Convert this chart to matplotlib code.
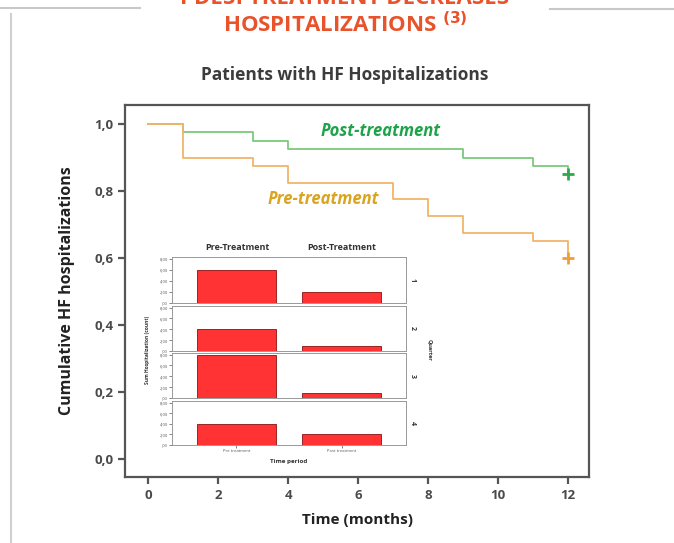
import numpy as np
import matplotlib
matplotlib.use("Agg")
import matplotlib.pyplot as plt
from matplotlib.lines import Line2D

# Kaplan-Meier style steps
months_post = [0, 1, 3, 4, 9, 11, 12]
surv_post = [1.0, 0.975, 0.95, 0.925, 0.90, 0.875, 0.85]
months_pre = [0, 1, 3, 4, 7, 8, 9, 11, 12]
surv_pre = [1.0, 0.90, 0.875, 0.825, 0.775, 0.725, 0.675, 0.65, 0.60]

x_ticks = [0, 2, 4, 6, 8, 10, 12]
y_ticks = [0.0, 0.2, 0.4, 0.6, 0.8, 1.0]
y_ticklabels = ["0,0", "0,2", "0,4", "0,6", "0,8", "1,0"]

# inset: sum of hospitalizations per quarter
quarters = ["1", "2", "3", "4"]
periods = ["Pre treatment", "Post treatment"]
pre_counts = [6, 4, 8, 4]
post_counts = [2, 1, 1, 2]
inset_ticks = [0, 2, 4, 6, 8]
inset_ticklabels = [",00", "2,00", "4,00", "6,00", "8,00"]

W, H = 674, 543
FONT = ["Open Sans", "DejaVu Sans"]
plt.rcParams["font.family"] = FONT


def fx(x):
    return x / W


def fy(y):
    return 1 - y / H


def box(l, t, r, b):
    return [fx(l), fy(b), (r - l) / W, (b - t) / H]


fig = plt.figure(figsize=(W / 100, H / 100), dpi=100)
fig.patch.set_facecolor("white")

# slide decoration
fig.add_artist(Line2D([fx(0), fx(140)], [fy(8), fy(8)], color="#c8c8c8", lw=1.5))
fig.add_artist(Line2D([fx(550), fx(674)], [fy(9), fy(9)], color="#c8c8c8", lw=1.5))
fig.add_artist(Line2D([fx(11), fx(11)], [fy(14), fy(543)], color="#d0d0d0", lw=1.5))

# first title line is cut by the slide crop
fig.text(fx(345), fy(-2), "PDE5I TREATMENT DECREASES", ha="center", va="center",
         fontsize=16, fontweight="bold", color="#e8532b")
fig.text(fx(345), fy(25), r"HOSPITALIZATIONS $^{\mathbf{(3)}}$", ha="center", va="center",
         fontsize=16, fontweight="bold", color="#e8532b")
fig.text(fx(345), fy(75), "Patients with HF Hospitalizations", ha="center", va="center",
         fontsize=12.5, fontweight="bold", color="#3c3c3c")

# main survival plot
ax = fig.add_axes(box(125, 105, 589, 477))
ax.step(months_post, surv_post, where="post", color="#7cc87c", lw=1.3)
ax.step(months_pre, surv_pre, where="post", color="#f2b46a", lw=1.3)
ax.plot(months_post[-1], surv_post[-1], marker="+", ms=9, mew=2, color="#2ea84a")
ax.plot(months_pre[-1], surv_pre[-1], marker="+", ms=9, mew=2, color="#f0a030")

ax.text(6.65, 0.98, "Post-treatment", color="#1fa34a", fontsize=12, fontweight="bold",
        style="italic", ha="center", va="center")
ax.text(5.0, 0.776, "Pre-treatment", color="#d9a520", fontsize=12, fontweight="bold",
        style="italic", ha="center", va="center")

ax.set_xlim(-0.66, 12.6)
ax.set_ylim(-0.054, 1.057)
ax.set_xticks(x_ticks)
ax.set_yticks(y_ticks)
ax.set_yticklabels(y_ticklabels)
for s in ax.spines.values():
    s.set_color("#555555")
    s.set_linewidth(1.6)
ax.tick_params(axis="both", colors="#555555", labelcolor="#4a4a4a", labelsize=9.5,
               width=1.6, length=5)
for lab in ax.get_xticklabels() + ax.get_yticklabels():
    lab.set_fontweight("bold")
ax.set_xlabel("Time (months)", fontsize=11, fontweight="bold", color="#222222", labelpad=8)
ax.set_ylabel("Cumulative HF hospitalizations", fontsize=11.5, fontweight="bold",
              color="#222222", labelpad=14)

# inset faceted bar chart
panel_rows = [(257, 303), (306, 351), (353, 398), (401, 445)]
for i, (top, bot) in enumerate(panel_rows):
    pax = fig.add_axes(box(172, top, 406, bot))
    pax.bar([0, 1], [pre_counts[i], post_counts[i]], width=0.75, color="#ff3333",
            edgecolor="#8a1010", lw=0.6)
    pax.set_xlim(-0.61, 1.61)
    pax.set_ylim(0, 8.3)
    pax.set_yticks(inset_ticks)
    pax.set_yticklabels(inset_ticklabels)
    pax.tick_params(axis="y", labelsize=3, length=2, width=0.5, pad=1, colors="#555555")
    for s in pax.spines.values():
        s.set_color("#999999")
        s.set_linewidth(0.7)
    if i < 3:
        pax.set_xticks([])
    else:
        pax.set_xticks([0, 1])
        pax.set_xticklabels(periods)
        pax.tick_params(axis="x", labelsize=3, length=2, width=0.5, pad=1, colors="#555555")
    fig.text(fx(412), fy((top + bot) / 2), quarters[i], rotation=-90, ha="center",
             va="center", fontsize=5, fontweight="bold", color="#333333")

fig.text(fx(237), fy(248), "Pre-Treatment", ha="center", va="center", fontsize=6.5,
         fontweight="bold", color="#333333")
fig.text(fx(342), fy(248), "Post-Treatment", ha="center", va="center", fontsize=6.5,
         fontweight="bold", color="#333333")
fig.text(fx(148), fy(350), "Sum Hospitalization (count)", rotation=90, ha="center",
         va="center", fontsize=3.5, fontweight="bold", color="#333333")
fig.text(fx(430), fy(350), "Quarter", rotation=-90, ha="center", va="center",
         fontsize=4, fontweight="bold", color="#333333")
fig.text(fx(289), fy(461), "Time period", ha="center", va="center", fontsize=4.5,
         fontweight="bold", color="#333333")

fig.savefig("out.png", dpi=100)
